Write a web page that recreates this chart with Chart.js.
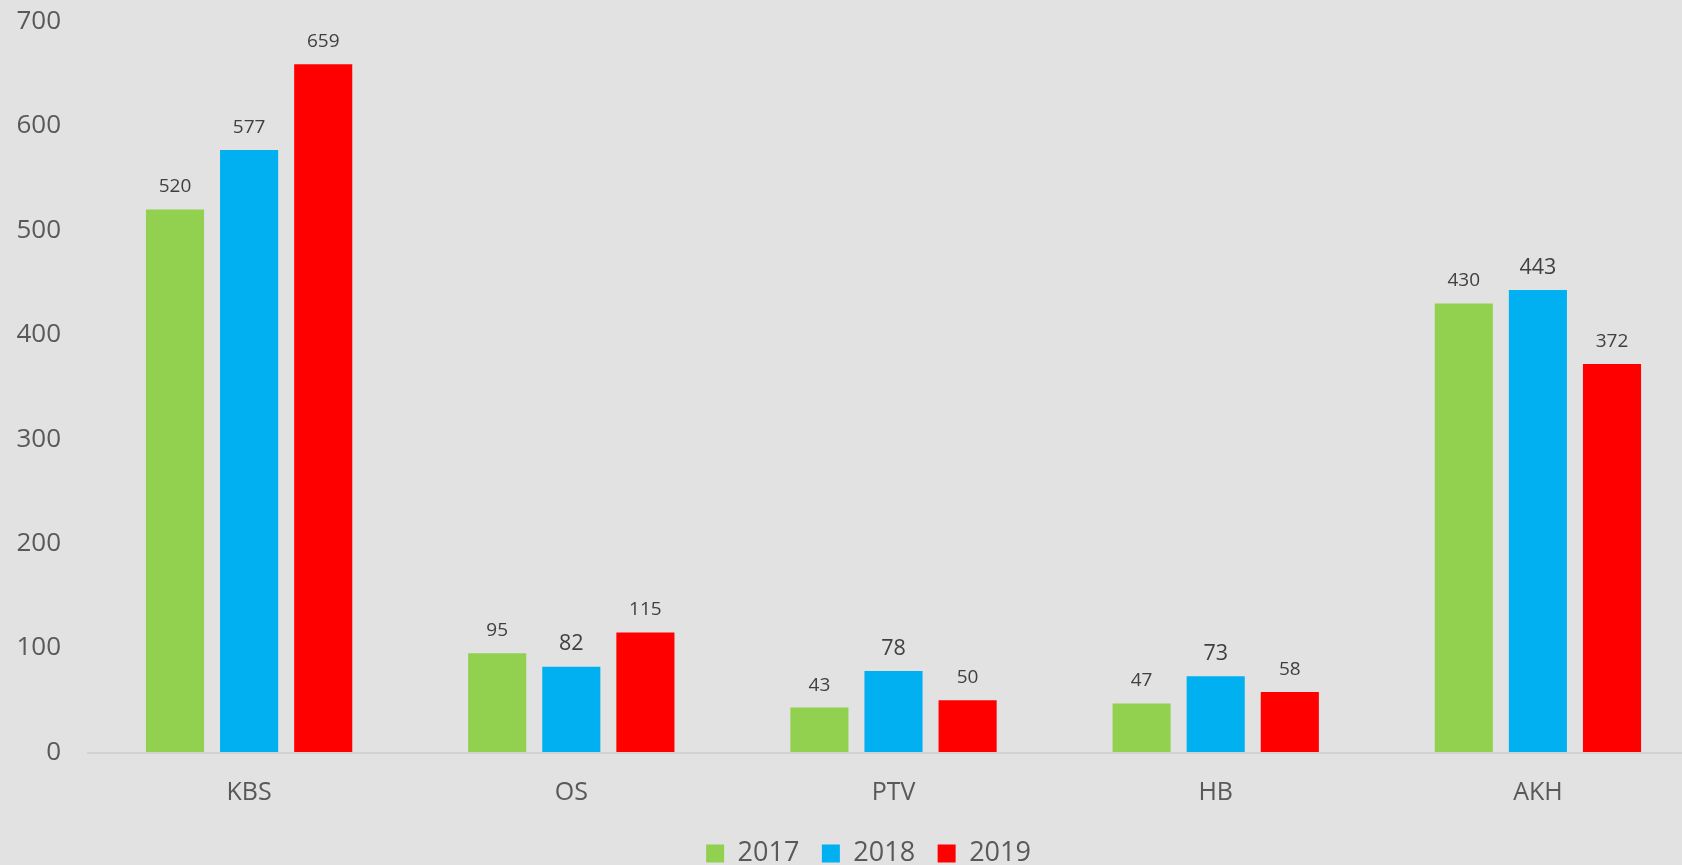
<!DOCTYPE html>
<html>
<head>
<meta charset="utf-8">
<script src="https://cdn.jsdelivr.net/npm/chart.js@4.4.1/dist/chart.umd.min.js"></script>
<style>
  html, body { margin: 0; padding: 0; background: #e2e2e2; overflow: hidden; }
  #wrap { position: absolute; left: 0; top: 0; width: 1737px; height: 865px; }
</style>
</head>
<body>
<div id="wrap"><canvas id="c"></canvas></div>
<script>
const categories = ["KBS", "OS", "PTV", "HB", "AKH"];
const seriesNames = ["2017", "2018", "2019"];
const values2017 = [520, 95, 43, 47, 430];
const values2018 = [577, 82, 78, 73, 443];
const values2019 = [659, 115, 50, 58, 372];
const yTicks = [0, 100, 200, 300, 400, 500, 600, 700];

const colors = ["#92d050", "#00b0f0", "#ff0000"];
// label font sizes per dataset / per point (style only)
const labelSizes = [
  [19, 19, 19, 19, 19],
  [19, 21.5, 21.5, 21.5, 21.5],
  [19, 19, 19, 19, 19]
];
const FONT = "'Open Sans', 'Noto Sans', sans-serif";

const valueLabels = {
  id: 'valueLabels',
  afterDatasetsDraw(chart) {
    const ctx = chart.ctx;
    ctx.save();
    ctx.fillStyle = '#404040';
    ctx.textAlign = 'center';
    ctx.textBaseline = 'middle';
    chart.data.datasets.forEach((ds, di) => {
      const meta = chart.getDatasetMeta(di);
      meta.data.forEach((bar, i) => {
        ctx.font = labelSizes[di][i] + 'px ' + FONT;
        ctx.fillText(String(ds.data[i]), bar.x, bar.y - 22.5);
      });
    });
    ctx.restore();
  }
};

new Chart(document.getElementById('c'), {
  type: 'bar',
  data: {
    labels: categories,
    datasets: [
      { label: seriesNames[0], data: values2017, backgroundColor: colors[0] },
      { label: seriesNames[1], data: values2018, backgroundColor: colors[1] },
      { label: seriesNames[2], data: values2019, backgroundColor: colors[2] }
    ]
  },
  options: {
    responsive: true,
    maintainAspectRatio: false,
    animation: false,
    datasets: { bar: { categoryPercentage: 0.69, barPercentage: 0.784 } },
    layout: { padding: { top: 21.5, right: 0, left: 0, bottom: -12 } },
    scales: {
      x: {
        grid: { display: false, drawTicks: false },
        border: { display: true, color: '#d2d2d2', width: 2 },
        ticks: { color: '#595959', font: { family: FONT, size: 25 }, padding: 25 },
        afterFit(s) { s.height = 65; }
      },
      y: {
        min: 0, max: 700,
        afterBuildTicks(s) { s.ticks = yTicks.map(v => ({ value: v })); },
        grid: { display: true, drawOnChartArea: false, drawTicks: true, tickLength: 25, color: 'rgba(0,0,0,0)' },
        border: { display: false },
        ticks: { color: '#595959', font: { family: FONT, size: 26 }, padding: 2 },
        afterFit(s) { s.width = 88; }
      },
      yRight: {
        type: 'linear',
        position: 'right',
        display: true,
        grid: { display: false },
        border: { display: false },
        ticks: { display: false },
        afterFit(s) { s.width = 38; }
      }
    },
    plugins: {
      legend: {
        position: 'bottom',
        labels: {
          boxWidth: 18, boxHeight: 18, padding: 22.5,
          color: '#595959', font: { family: FONT, size: 27 }
        }
      },
      tooltip: { enabled: false }
    }
  },
  plugins: [valueLabels]
});
</script>
</body>
</html>
